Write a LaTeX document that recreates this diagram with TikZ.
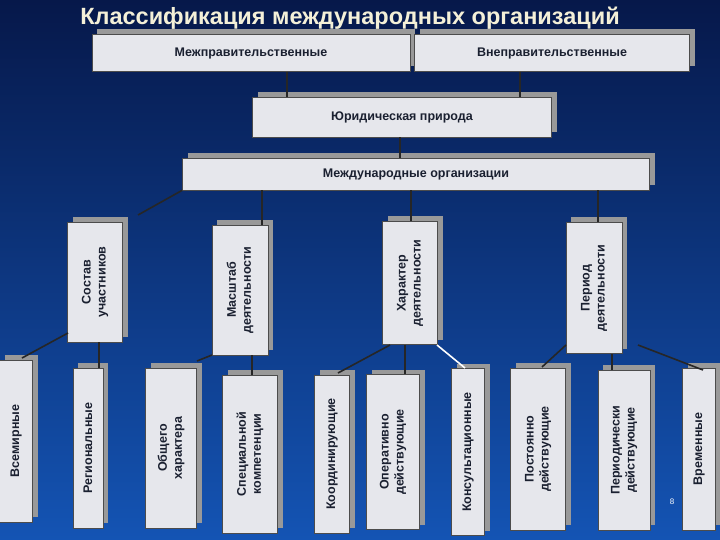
\documentclass[tikz,border=0pt]{standalone}
\usepackage{fontspec}
\setmainfont{Liberation Sans}
\usetikzlibrary{positioning, shadows}
\definecolor{boxfill}{HTML}{E6E7EC}
\definecolor{boxtext}{HTML}{1A2030}
\definecolor{bgtop}{HTML}{06184A}
\definecolor{bgbot}{HTML}{1454B4}
\definecolor{titlecol}{HTML}{F4F0D8}
\begin{document}
\begin{tikzpicture}[x=1pt, y=-1pt, semithick,
    box/.style={rectangle, draw=black!70, fill=boxfill, text=boxtext, font=\fontsize{12.5}{15}\selectfont\bfseries,
                align=center, inner sep=1pt, copy shadow={shadow xshift=5pt, shadow yshift=5pt, fill=gray!80, draw=none}},
    vbox/.style={box, rotate=90},
    link/.style={draw=black!85, line width=1.6pt}]

  % background
  \shade[top color=bgtop, bottom color=bgbot] (0,0) rectangle (720,540);
  \useasboundingbox (0,0) rectangle (720,540);

  \node[font=\fontsize{23.5}{26}\selectfont\bfseries, text=titlecol] (title) at (350,18) {Классификация международных организаций};

  % upper level
  \node[box, minimum width=318pt, minimum height=37pt] (inter) at (251,53) {Межправительственные};
  \node[box, minimum width=275pt, minimum height=37pt] (nongov) at (552,53) {Внеправительственные};
  \node[box, minimum width=299pt, minimum height=40pt] (legal) at (402,117) {Юридическая природа};
  \node[box, minimum width=467pt, minimum height=32pt] (io) at (416,174) {Международные организации};

  % criteria
  \node[vbox, minimum width=120pt, minimum height=55pt] (members) at (95,282) {Состав\\участников};
  \node[vbox, minimum width=130pt, minimum height=56pt] (scale) at (240,290) {Масштаб\\деятельности};
  \node[vbox, minimum width=123pt, minimum height=55pt] (nature) at (410,283) {Характер\\деятельности};
  \node[vbox, minimum width=131pt, minimum height=56pt] (period) at (594,288) {Период\\деятельности};

  % types
  \node[vbox, minimum width=162pt, minimum height=33pt] (world) at (16,441) {Всемирные};
  \node[vbox, minimum width=160pt, minimum height=30pt] (region) at (88,448) {Региональные};
  \node[vbox, minimum width=160pt, minimum height=51pt] (general) at (171,448) {Общего\\характера};
  \node[vbox, minimum width=158pt, minimum height=55pt] (special) at (250,454) {Специальной\\компетенции};
  \node[vbox, minimum width=158pt, minimum height=35pt] (coord) at (332,454) {Координирующие};
  \node[vbox, minimum width=155pt, minimum height=53pt] (oper) at (393,452) {Оперативно\\действующие};
  \node[vbox, minimum width=167pt, minimum height=33pt] (consult) at (468,452) {Консультационные};
  \node[vbox, minimum width=162pt, minimum height=55pt] (perm) at (538,449) {Постоянно\\действующие};
  \node[vbox, minimum width=160pt, minimum height=52pt] (periodic) at (624,450) {Периодически\\действующие};
  \node[vbox, minimum width=162pt, minimum height=33pt] (temp) at (699,449) {Временные};

  \node[font=\fontsize{8}{9}\selectfont, text=white] (page) at (672,502) {8};

  % connectors
  \draw[link] (inter.south -| 287,0) -- (legal.north -| 287,0);
  \draw[link] (nongov.south -| 520,0) -- (legal.north -| 520,0);
  \draw[link] (legal.south -| 400,0) -- (io.north -| 400,0);
  \draw[link] (io.south west) -- (138,215);
  \draw[link] (io.south -| 262,0) -- (scale.east -| 262,0);
  \draw[link] (io.south -| 411,0) -- (nature.east -| 411,0);
  \draw[link] (io.south -| 598,0) -- (period.east -| 598,0);

  \draw[link] (68,333) -- (22,358);
  \draw[link] (members.west -| 99,0) -- (region.east -| 99,0);
  \draw[link] (212,355) -- (197,361);
  \draw[link] (scale.west -| 252,0) -- (special.east -| 252,0);
  \draw[link] (390,345) -- (338,373);
  \draw[link] (nature.west -| 405,0) -- (oper.east -| 405,0);
  \draw[line width=1.6pt, white] (437,345) -- (465,368);
  \draw[link] (566,345) -- (542,367);
  \draw[link] (period.west -| 612,0) -- (periodic.east -| 612,0);
  \draw[link] (638,345) -- (703,370);
\end{tikzpicture}
\end{document}
